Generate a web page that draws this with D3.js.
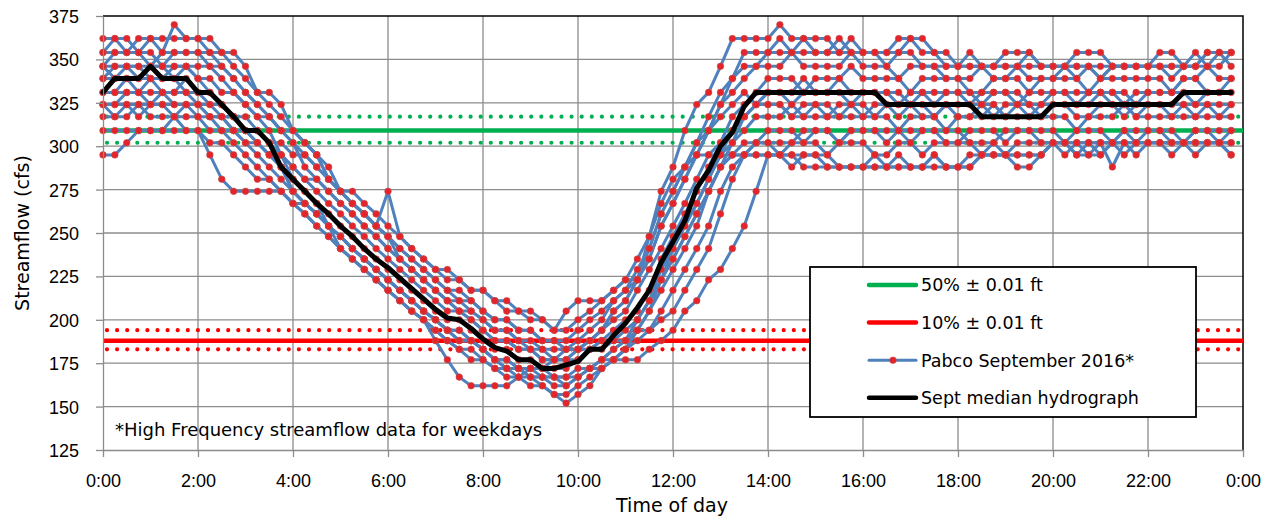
<!DOCTYPE html>
<html lang="en">
<head>
<meta charset="utf-8">
<title>Pabco September 2016 streamflow</title>
<script src="https://d3js.org/d3.v7.min.js"></script>
<style>
  body { margin:0; background:#fff; }
  svg { display:block; font-family:"DejaVu Sans", sans-serif; }
  .axis text { font-size:18px; fill:#000; }
  .axis path, .axis line { stroke:#8c8c8c; stroke-width:1.3; }
</style>
</head>
<body>
<script>
// x categories: 96 readings a day, one every 15 minutes (hours)
const hourTicks = [0, 2, 4, 6, 8, 10, 12, 14, 16, 18, 20, 22, 24];
const flowTicks = [125, 150, 175, 200, 225, 250, 275, 300, 325, 350, 375];

// 50% and 10% flows with the +/- 0.01 ft band
const flow50 = 309, flow50Band = [302, 317];
const flow10 = 188, flow10Band = [183, 194];

// weekday hydrographs, cfs, 0:00 .. 23:45
const day01 = [362,362,362,354,362,362,362,362, 362,362,354,354,346,331,331,324, 309,302,295,281,274,267,261,254, 248,241,235,229,223,217,217,211, 205,200,200,194,194,188,188,188, 194,200,205,211,217,223,235,254, 267,281,295,309,324,331,339,346, 354,354,354,362,354,354,354,354, 354,354,346,354,354,346,346,346, 346,354,346,346,346,346,354,346, 346,346,346,346,339,346,346,346, 346,346,346,346,354,346,346,354];
const day02 = [354,354,354,354,346,354,354,354, 354,354,346,339,331,324,317,309, 302,288,281,274,267,261,254,248, 241,235,229,223,217,211,205,205, 200,194,194,188,183,183,177,177, 183,188,194,205,211,223,235,254, 267,281,295,309,324,339,346,346, 346,346,354,346,346,346,346,354, 346,346,346,339,346,346,346,339, 339,339,346,339,339,346,339,339, 339,346,346,346,339,346,346,346, 346,346,339,346,346,346,354,346];
const day03 = [346,354,354,354,354,346,354,354, 354,346,339,331,324,317,309,295, 281,274,267,254,248,241,235,229, 223,217,211,205,200,194,188,188, 183,177,172,172,167,167,162,162, 167,172,177,183,188,200,211,223, 241,254,267,281,295,309,317,324, 331,331,331,339,331,331,339,331, 331,331,331,324,331,331,324,331, 331,331,324,331,331,331,324,324, 331,331,324,331,331,331,331,324, 331,331,331,339,339,331,331,339];
const day04 = [346,346,346,339,346,346,346,346, 339,339,331,331,324,317,317,309, 309,302,295,288,274,267,261,254, 274,248,241,235,229,223,223,217, 217,211,205,205,200,200,194,194, 200,205,211,217,223,223,248,274, 288,309,324,331,346,362,362,362, 362,370,362,362,362,362,354,362, 354,354,354,362,362,362,354,354, 346,346,346,346,354,354,354,346, 346,346,354,354,354,346,346,346, 346,354,354,346,346,354,354,354];
const day05 = [346,339,346,346,346,346,339,346, 339,331,324,317,309,302,295,288, 274,267,261,254,241,235,229,223, 217,211,205,200,188,177,167,162, 162,162,162,167,172,172,177,183, 183,188,194,200,205,217,229,241, 254,267,281,295,302,309,317,324, 324,324,317,324,324,324,317,324, 324,317,324,324,324,317,317,324, 324,324,324,317,324,324,324,317, 324,324,324,324,331,324,324,317, 324,324,324,324,317,324,324,324];
const day06 = [339,339,339,331,339,339,339,331, 331,331,324,317,309,309,302,288, 281,274,267,261,254,248,241,235, 229,223,217,211,205,200,200,194, 188,183,183,177,177,172,172,172, 177,183,188,194,200,205,217,235, 248,261,274,288,302,317,324,331, 339,339,339,331,339,339,339,346, 339,339,339,339,331,339,339,339, 339,331,331,339,339,339,331,339, 339,339,339,331,339,339,339,339, 339,339,331,339,339,346,339,339];
const day07 = [331,331,339,339,339,331,331,339, 331,324,317,309,309,302,295,288, 274,267,261,254,248,241,235,229, 223,217,211,205,200,194,194,188, 183,177,177,172,172,167,167,167, 167,172,177,177,183,188,194,205, 217,229,241,254,274,288,295,302, 309,309,309,302,309,309,302,309, 309,309,302,309,309,309,309,302, 302,309,309,309,302,309,309,309, 309,302,309,309,309,302,309,309, 309,309,309,302,309,309,309,309];
const day08 = [331,331,331,331,324,331,331,331, 324,324,324,317,317,309,302,295, 288,281,281,274,267,261,254,248, 241,235,229,223,217,211,211,205, 200,194,194,188,188,183,183,183, 188,194,200,211,217,229,241,261, 274,288,302,309,317,324,331,324, 324,324,317,317,324,317,317,317, 317,317,317,309,317,317,317,309, 317,317,317,324,317,317,317,317, 317,317,309,317,317,317,324,317, 317,317,317,317,317,317,317,317];
const day09 = [324,324,331,331,331,331,324,324, 324,317,309,302,295,288,281,274, 267,261,254,248,241,235,229,223, 217,211,205,200,194,188,183,183, 177,172,172,167,167,162,157,152, 157,162,172,177,183,194,205,217, 229,241,254,274,288,295,302,302, 302,295,302,302,302,295,302,302, 302,295,295,302,302,295,302,302, 302,302,295,302,295,302,302,302, 302,302,302,295,302,302,302,295, 302,302,302,302,295,302,302,302];
const day10 = [324,324,324,317,324,324,324,324, 317,317,317,317,309,309,302,302, 295,295,288,281,274,274,267,261, 254,248,241,235,229,229,223,217, 217,211,211,205,205,200,194,205, 211,211,211,217,223,235,248,267, 281,288,295,295,295,295,295,295, 295,295,288,295,295,288,288,288, 288,295,288,295,288,288,295,288, 288,288,295,295,295,295,295,295, 302,302,295,302,302,288,302,302, 302,302,302,302,302,302,302,295];
const day11 = [324,317,324,324,324,324,317,324, 324,317,317,309,302,295,288,281, 274,267,261,254,248,241,235,229, 223,217,211,205,200,194,194,188, 183,177,177,172,172,172,167,167, 172,172,172,177,177,177,183,188, 194,205,211,223,229,241,254,274, 295,295,295,295,295,295,288,288, 288,288,288,288,288,288,295,288, 288,295,295,295,295,295,295,295, 302,295,302,302,295,302,295,302, 302,302,295,302,302,302,302,302];
const day12 = [317,317,317,324,317,317,317,317, 317,309,309,309,302,302,295,295, 288,281,274,267,261,254,248,241, 235,229,223,217,211,205,205,200, 194,188,188,183,183,177,177,177, 177,183,188,188,194,200,211,223, 235,248,261,274,288,295,295,295, 295,295,295,288,288,288,288,288, 288,288,288,288,288,288,288,288, 288,288,295,295,295,288,288,295, 302,302,295,295,295,302,302,302, 302,302,302,302,302,302,302,295];
const day13 = [309,309,309,309,309,309,317,309, 309,302,302,295,288,281,281,274, 267,267,261,254,248,241,235,229, 223,217,211,205,200,194,188,188, 183,177,172,172,167,167,167,162, 167,172,177,183,188,200,211,229, 241,254,267,281,295,302,309,317, 317,317,324,317,317,317,324,324, 317,324,324,317,324,324,317,324, 317,317,324,324,317,324,317,324, 324,324,317,317,324,324,317,324, 324,324,317,324,324,324,317,324];
const day14 = [295,295,302,309,309,309,309,309, 309,295,281,274,274,274,274,274, 267,261,254,248,241,235,229,223, 217,211,205,200,194,188,183,177, 177,172,167,167,162,162,157,157, 162,167,172,177,183,194,205,223, 235,248,261,274,288,302,317,324, 331,331,324,331,331,331,331,324, 331,331,331,331,324,331,331,331, 331,324,331,331,331,324,331,331, 331,331,331,331,331,331,324,331, 331,331,331,331,324,331,331,331];
const day15 = [354,362,354,362,362,354,370,362, 362,354,354,346,339,331,324,317, 309,302,295,281,274,267,261,254, 248,235,229,223,217,211,205,200, 194,188,188,183,183,177,177,177, 183,188,194,205,211,223,241,261, 274,288,302,317,331,339,354,354, 354,362,354,354,354,354,362,354, 354,354,354,354,362,354,354,346, 346,346,346,346,346,346,346,346, 346,346,339,346,346,346,346,346, 346,346,346,346,346,354,354,354];
const day16 = [339,346,346,346,339,339,346,346, 346,346,346,339,331,324,317,309, 302,295,288,281,274,267,261,254, 248,241,235,229,223,217,211,211, 205,200,200,194,194,188,188,183, 183,183,183,188,188,194,194,200, 205,217,229,241,261,281,295,302, 302,302,302,309,309,309,302,309, 309,309,309,309,302,309,309,309, 309,302,302,302,309,309,309,302, 302,302,302,302,302,302,309,302, 309,309,302,302,309,309,302,309];

const medianFlow = [331,339,339,339,346,339,339,339, 331,331,324,317,309,309,302,288, 281,274,267,261,254,248,241,235, 230,224,218,212,206,201,200,195, 189,184,182,177,177,172,172,174, 176,183,183,191,198,207,217,233, 245,257,276,286,300,308,323,331, 331,331,331,331,331,331,331,331, 331,331,324,324,324,324,324,324, 324,324,317,317,317,317,317,317, 324,324,324,324,324,324,324,324, 324,324,324,331,331,331,331,331];

const legendLabels = ["50% \u00b1 0.01 ft", "10% \u00b1 0.01 ft", "Pabco September 2016*", "Sept median hydrograph"];
const footnote = "*High Frequency streamflow data for weekdays";

const days = [day01, day02, day03, day04, day05, day06, day07, day08,
              day09, day10, day11, day12, day13, day14, day15, day16];

const W = 1278, H = 521;
const green = "#00b050", red = "#ff0000", blue = "#4f81bd", dotRed = "#e4232a";

let svg = d3.select("body").append("svg")
    .attr("width", W).attr("height", H);

svg.append("rect").attr("width", W).attr("height", H).attr("fill", "#fff");

let x = d3.scaleLinear().domain([0, 24]).range([103, 1243]);
let y = d3.scaleLinear().domain([125, 375]).range([450, 16]);
let t = (d, i) => x(i / 4);   // 15 minute step

// grid
svg.append("g").selectAll("line.h")
  .data(flowTicks.slice(1, -1))
  .enter().append("line")
    .attr("x1", x(0)).attr("x2", x(24))
    .attr("y1", d => y(d)).attr("y2", d => y(d))
    .attr("stroke", "#8c8c8c").attr("stroke-width", 1.3);
svg.append("g").selectAll("line.v")
  .data(hourTicks.slice(1, -1))
  .enter().append("line")
    .attr("x1", d => x(d)).attr("x2", d => x(d))
    .attr("y1", y(125)).attr("y2", y(375))
    .attr("stroke", "#8c8c8c").attr("stroke-width", 1.3);

// plot frame (top / right)
svg.append("path")
  .attr("d", `M${x(0)},${y(375)}H${x(24)}V${y(125)}`)
  .attr("fill", "none").attr("stroke", "#000").attr("stroke-width", 1.5);

// threshold lines
function hline(v, color, dotted) {
  svg.append("line")
    .attr("x1", x(0) + (dotted ? 4 : 0)).attr("x2", x(24))
    .attr("y1", y(v)).attr("y2", y(v))
    .attr("stroke", color)
    .attr("stroke-width", dotted ? 4.2 : 4.5)
    .attr("stroke-linecap", dotted ? "round" : "butt")
    .attr("stroke-dasharray", dotted ? "0,10.1" : null);
}
hline(flow50, green, false);
flow50Band.forEach(v => hline(v, green, true));
hline(flow10, red, false);
flow10Band.forEach(v => hline(v, red, true));

// daily hydrographs
let line = d3.line().x(t).y(d => y(d));
let gDays = svg.append("g");
gDays.selectAll("path")
  .data(days)
  .enter().append("path")
    .attr("d", line)
    .attr("fill", "none")
    .attr("stroke", blue)
    .attr("stroke-width", 3)
    .attr("stroke-linejoin", "round");
days.forEach(day => {
  gDays.append("g").selectAll("circle")
    .data(day)
    .enter().append("circle")
      .attr("cx", t)
      .attr("cy", d => y(d))
      .attr("r", 3.3)
      .attr("fill", dotRed)
      .attr("stroke", "#c0504d")
      .attr("stroke-width", 0.6);
});

// median
svg.append("path")
  .datum(medianFlow)
  .attr("d", line)
  .attr("fill", "none")
  .attr("stroke", "#000")
  .attr("stroke-width", 5)
  .attr("stroke-linejoin", "round")
  .attr("stroke-linecap", "round");

// axes
svg.append("g")
  .attr("class", "axis")
  .attr("transform", `translate(${x(0)},0)`)
  .call(d3.axisLeft(y).tickValues(flowTicks).tickSize(7).tickPadding(17).tickSizeOuter(0))
  .call(g => g.selectAll("text").attr("dy", "0.36em"));

svg.append("g")
  .attr("class", "axis")
  .attr("transform", `translate(0,${y(125)})`)
  .call(d3.axisBottom(x).tickValues(hourTicks).tickSize(7).tickPadding(17).tickSizeOuter(0)
        .tickFormat(h => (h % 24) + ":00"));

svg.append("text")
  .attr("x", 672).attr("y", 512)
  .attr("text-anchor", "middle")
  .style("font-size", "19px")
  .text("Time of day");

svg.append("text")
  .attr("transform", "translate(22,233) rotate(-90)")
  .attr("text-anchor", "middle")
  .attr("dominant-baseline", "central")
  .style("font-size", "19px")
  .text("Streamflow (cfs)");

svg.append("text")
  .attr("x", 115).attr("y", 436)
  .style("font-size", "18px")
  .text(footnote);

// legend
let legend = svg.append("g");
legend.append("rect")
  .attr("x", 810).attr("y", 267).attr("width", 386).attr("height", 150)
  .attr("fill", "#fff").attr("stroke", "#000").attr("stroke-width", 1.8);
let legendColors = [green, red, blue, "#000"];
let rows = legend.selectAll("g.row")
  .data(legendLabels)
  .enter().append("g")
    .attr("transform", (d, i) => `translate(0,${285 + i * 37.6})`);
rows.append("line")
  .attr("x1", 869).attr("x2", 916)
  .attr("stroke", (d, i) => legendColors[i])
  .attr("stroke-width", (d, i) => i === 2 ? 3 : 4.5)
  .attr("stroke-linecap", "round");
rows.filter((d, i) => i === 2).append("circle")
  .attr("cx", 893).attr("r", 3.3)
  .attr("fill", dotRed).attr("stroke", "#c0504d").attr("stroke-width", 0.6);
rows.append("text")
  .attr("x", 921)
  .attr("dy", "0.36em")
  .style("font-size", "17.5px")
  .text(d => d);
</script>
</body>
</html>
